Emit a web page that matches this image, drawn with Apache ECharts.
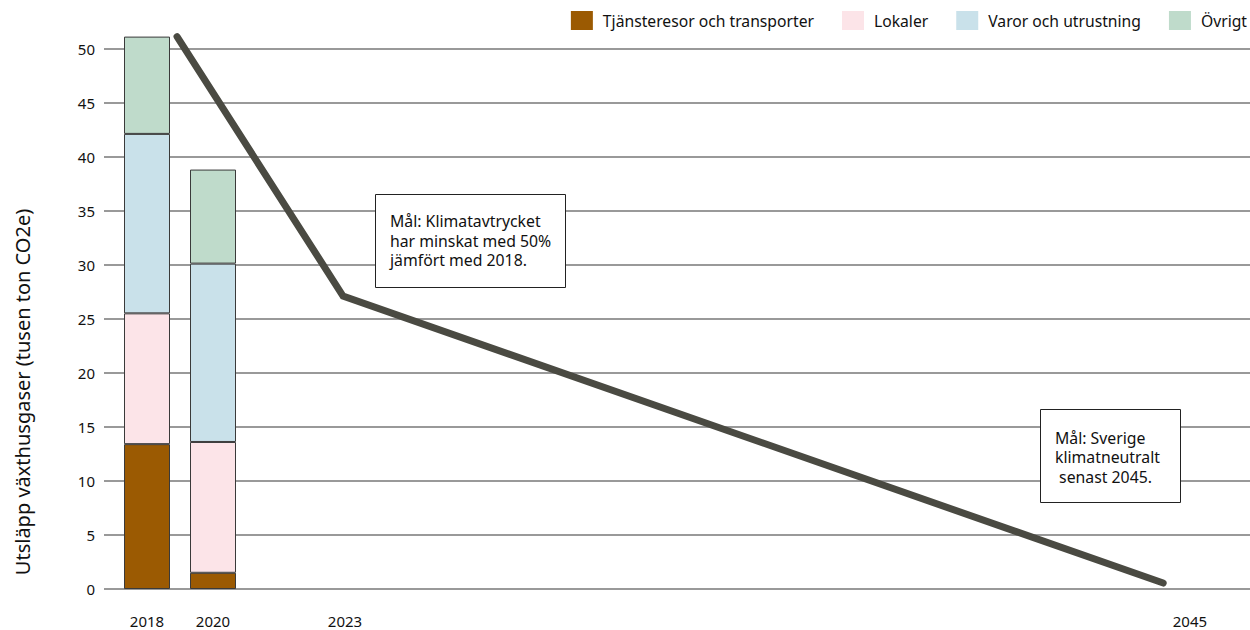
<!DOCTYPE html>
<html>
<head>
<meta charset="utf-8">
<script src="https://cdn.jsdelivr.net/npm/echarts@6/dist/echarts.min.js"></script>
<style>
  html, body { margin: 0; padding: 0; background: #fff; }
  #chart { width: 1250px; height: 630px; }
</style>
</head>
<body>
<div id="chart"></div>
<script>
// ---- Data ----
// Bar positions on the horizontal position scale (2018 bar = 0, 2020 bar = 2)
const barYears = ['2018', '2020'];
const barPos = [0, 2];
const seriesNames = ['Tjänsteresor och transporter', 'Lokaler', 'Varor och utrustning', 'Övrigt'];
const tjansteresor = [13.4, 1.5];
const lokaler = [12.1, 12.1];
const varor = [16.6, 16.5];
const ovrigt = [9.0, 8.7];

// Target path (goal line)
const goalPos = [0.91, 5.94, 30.79];
const goalValues = [51.1, 27.1, 0.55];

// x tick labels
const xTickPos = [0, 2, 6, 31.6];
const xTickLabels = ['2018', '2020', '2023', '2045'];

// y ticks
const yMin = 0, yMax = 50, yStep = 5;

const annotation1 = 'Mål: Klimatavtrycket\nhar minskat med 50%\njämfört med 2018.';
const annotation2 = 'Mål: Sverige\nklimatneutralt\n senast 2045.';
const yTitle = 'Utsläpp växthusgaser (tusen ton CO2e)';

const colors = ['#9b5a02', '#fce4e8', '#c9e1ea', '#bfdbcb'];
const FONT = '"Noto Sans", "Open Sans", sans-serif';

// value first, position second (so the value dimension is the stacked one)
function valPos(vals, pos) { return vals.map((v, i) => [v, pos[i]]); }

const barData = [tjansteresor, lokaler, varor, ovrigt];
const barSeries = seriesNames.map((name, i) => ({
  name: name,
  type: 'bar',
  stack: 'total',
  barWidth: 46,
  clip: false,
  encode: { x: 1, y: 0 },
  data: valPos(barData[i], barPos),
  itemStyle: { color: colors[i], borderColor: '#3a3a3a', borderWidth: 1 },
  emphasis: { disabled: true }
}));

const chart = echarts.init(document.getElementById('chart'), null, { renderer: 'svg' });

chart.setOption({
  animation: false,
  backgroundColor: '#fff',
  textStyle: { fontFamily: FONT },
  grid: { left: 104, right: 0, top: 48.5, bottom: 41, containLabel: false },
  legend: {
    data: seriesNames,
    right: 0,
    top: 6,
    padding: [5, 3, 5, 5],
    itemWidth: 22,
    itemHeight: 19,
    itemGap: 28,
    icon: 'rect',
    itemStyle: { borderWidth: 0 },
    textStyle: { fontFamily: FONT, fontSize: 15.7, color: '#111', padding: [0, 0, 0, 5] }
  },
  xAxis: {
    type: 'value',
    min: -1.303,
    max: 33.42,
    axisLine: { show: false },
    axisTick: { show: false },
    splitLine: { show: false },
    axisLabel: {
      customValues: xTickPos,
      formatter: function (v) {
        const i = xTickPos.indexOf(v);
        return i >= 0 ? xTickLabels[i] : '';
      },
      margin: 24,
      fontSize: 15,
      color: '#111',
      fontFamily: FONT
    }
  },
  yAxis: {
    type: 'value',
    min: yMin,
    max: yMax,
    interval: yStep,
    axisLine: { show: false },
    axisTick: { show: false },
    axisLabel: { fontSize: 15, color: '#111', margin: 9, fontFamily: FONT },
    splitLine: { lineStyle: { color: '#777', width: 1.5 } }
  },
  series: barSeries.concat([{
    name: 'Mål',
    type: 'line',
    data: goalPos.map((p, i) => [p, goalValues[i]]),
    symbol: 'none',
    clip: false,
    z: 5,
    lineStyle: { color: '#4a4a42', width: 7, cap: 'round', join: 'miter' },
    emphasis: { disabled: true }
  }]),
  graphic: [
    {
      type: 'text',
      x: 22, y: 392,
      rotation: Math.PI / 2,
      style: { text: yTitle, font: '20px ' + FONT, fill: '#111', textAlign: 'center', textVerticalAlign: 'middle' }
    },
    {
      type: 'rect', z: 10,
      shape: { x: 375.5, y: 194.5, width: 190, height: 93 },
      style: { fill: '#fff', stroke: '#222', lineWidth: 1 }
    },
    {
      type: 'text', z: 11,
      x: 390, y: 211.5,
      style: { text: annotation1, font: '15.8px ' + FONT, fill: '#111', lineHeight: 19.5, textVerticalAlign: 'top' }
    },
    {
      type: 'rect', z: 10,
      shape: { x: 1040.5, y: 409.5, width: 140, height: 93 },
      style: { fill: '#fff', stroke: '#222', lineWidth: 1 }
    },
    {
      type: 'text', z: 11,
      x: 1055, y: 428,
      style: { text: annotation2, font: '15.8px ' + FONT, fill: '#111', lineHeight: 19.5, textVerticalAlign: 'top' }
    }
  ]
});
</script>
</body>
</html>
